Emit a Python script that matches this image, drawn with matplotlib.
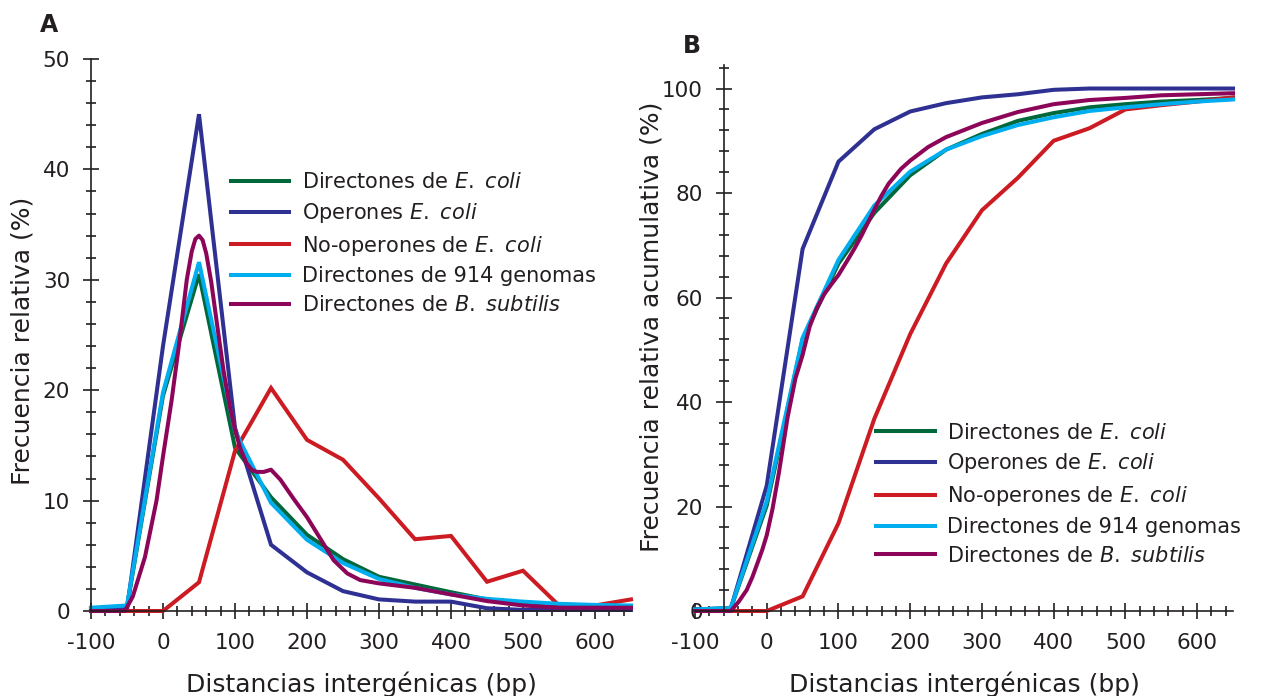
import matplotlib
matplotlib.use("Agg")
import matplotlib.pyplot as plt
from matplotlib.ticker import MultipleLocator

plt.rcParams['font.family'] = ['DejaVu Sans']
plt.rcParams['mathtext.fontset'] = 'dejavusans'
plt.rcParams['axes.unicode_minus'] = False

# ---------------- data: panel A (relative frequency, %) ----------------
x_bins = [-100, -50, 0, 50, 100, 150, 200, 250, 300, 350, 400, 450, 500, 550, 600, 650]

a_dir_ecoli = [0.2, 0.4, 19.5, 30.5, 14.8, 10.3, 6.9, 4.7, 3.1, 2.4, 1.7, 1.05, 0.65, 0.5, 0.45, 0.4]
a_oper_ecoli = [0.0, 0.15, 24.0, 45.0, 16.6, 6.0, 3.5, 1.8, 1.05, 0.85, 0.85, 0.25, 0.1, 0.1, 0.1, 0.1]
a_nooper_ecoli = [0.0, 0.0, 0.0, 2.6, 14.5, 20.2, 15.5, 13.7, 10.2, 6.5, 6.8, 2.65, 3.65, 0.5, 0.5, 1.05]
a_dir_914 = [0.3, 0.5, 19.8, 31.6, 16.3, 9.8, 6.45, 4.35, 2.9, 2.1, 1.5, 1.1, 0.85, 0.65, 0.55, 0.5]

a_bsub_x = [-100, -53, -42, -25, -9, 0, 12, 22, 33, 40, 45, 50, 55, 60, 67, 75, 84, 92, 100, 108,
            116, 123, 130, 140, 150, 163, 181, 200, 219, 237, 256, 274, 300, 350, 400, 450, 500,
            550, 600, 650]
a_bsub_y = [0.0, 0.0, 1.3, 4.9, 10.0, 14.0, 19.1, 24.0, 30.0, 32.6, 33.7, 34.0, 33.6, 32.4, 29.8,
            26.0, 21.8, 18.8, 16.4, 14.6, 13.4, 12.8, 12.6, 12.6, 12.8, 11.9, 10.2, 8.5, 6.5, 4.6,
            3.4, 2.8, 2.5, 2.1, 1.5, 0.9, 0.5, 0.3, 0.3, 0.3]

# ---------------- data: panel B (cumulative relative frequency, %) ----------------
b_dir_ecoli = [0.3, 0.55, 20.2, 52.0, 66.5, 76.2, 83.4, 88.3, 91.3, 93.8, 95.3, 96.4, 97.0, 97.5, 97.8, 98.2]
b_oper_ecoli = [0.3, 0.5, 24.0, 69.3, 86.0, 92.2, 95.6, 97.2, 98.3, 98.9, 99.75, 100.0, 100.0, 100.0, 100.0, 100.0]
b_nooper_ecoli = [0.0, 0.0, 0.0, 2.8, 16.8, 36.8, 53.0, 66.5, 76.7, 82.9, 90.0, 92.4, 96.0, 96.8, 97.5, 98.3]
b_dir_914 = [0.3, 0.6, 21.0, 52.3, 67.2, 77.6, 84.1, 88.3, 90.9, 93.0, 94.5, 95.7, 96.4, 97.0, 97.5, 97.9]

b_bsub_x = [-100, -50, -39, -28, -20, -12, -6, 0, 8, 17, 29, 40, 50, 60, 70, 80, 90, 100, 112,
            122, 132, 141, 150, 160, 170, 187, 200, 225, 250, 300, 350, 400, 450, 500, 550, 600, 650]
b_bsub_y = [0.0, 0.0, 1.8, 4.0, 6.5, 9.5, 11.8, 14.5, 19.5, 26.5, 37.0, 44.5, 49.0, 54.5, 58.0,
            60.6, 62.5, 64.3, 67.0, 69.3, 71.8, 74.3, 76.8, 79.5, 81.8, 84.6, 86.2, 88.8, 90.7,
            93.4, 95.5, 97.0, 97.8, 98.2, 98.7, 98.9, 99.1]

labels_a = [r'Directones de $\it{E.}$ $\it{coli}$', r'Operones $\it{E.}$ $\it{coli}$',
            r'No-operones de $\it{E.}$ $\it{coli}$', 'Directones de 914 genomas',
            r'Directones de $\it{B.}$ $\it{subtilis}$']
labels_b = [r'Directones de $\it{E.}$ $\it{coli}$', r'Operones de $\it{E.}$ $\it{coli}$',
            r'No-operones de $\it{E.}$ $\it{coli}$', 'Directones de 914 genomas',
            r'Directones de $\it{B.}$ $\it{subtilis}$']

colors = ['#00683a', '#2e3192', '#cc1b22', '#00aeef', '#8c0558']
txt = '#231f20'
lw = 2.9

W, H = 1266, 696
fig = plt.figure(figsize=(W / 100, H / 100), dpi=100)

def px_axes(x0, x1, y_top, y_bot):
    return fig.add_axes([x0 / W, 1 - y_bot / H, (x1 - x0) / W, (y_bot - y_top) / H])

axA = px_axes(91, 631, 59, 611)
axB = px_axes(695, 1233, 65, 611)

def style(ax, ymaj, ymin):
    for s in ['top', 'right']:
        ax.spines[s].set_visible(False)
    for s in ['left', 'bottom']:
        ax.spines[s].set_linewidth(1.2)
        ax.spines[s].set_color(txt)
    ax.xaxis.set_major_locator(MultipleLocator(100))
    ax.xaxis.set_minor_locator(MultipleLocator(20))
    ax.yaxis.set_major_locator(MultipleLocator(ymaj))
    ax.yaxis.set_minor_locator(MultipleLocator(ymin))
    ax.tick_params(which='major', direction='inout', length=12, width=1.2, color=txt,
                   labelsize=15.5, labelcolor=txt)
    ax.tick_params(which='minor', direction='inout', length=7.5, width=1.2, color=txt)
    ax.tick_params(axis='x', which='major', pad=10)
    ax.tick_params(axis='y', which='major', pad=9)
    ax.set_xlim(-100, 650)

legkw = dict(loc='upper left', frameon=False, fontsize=15, handlelength=2.8,
             handletextpad=0.6, labelspacing=0.42, borderpad=0, borderaxespad=0)

# ---- Panel A ----
style(axA, 10, 2)
axA.set_ylim(0, 50)
series_a = [a_dir_ecoli, a_oper_ecoli, a_nooper_ecoli, a_dir_914]
for ys, c, lab in zip(series_a, colors[:4], labels_a[:4]):
    axA.plot(x_bins, ys, color=c, lw=lw, label=lab, solid_joinstyle='miter', clip_on=False)
axA.plot(a_bsub_x, a_bsub_y, color=colors[4], lw=lw, label=labels_a[4], clip_on=False)
axA.set_xlabel('Distancias intergénicas (bp)', fontsize=18, color=txt, labelpad=13)
axA.set_ylabel('Frecuencia relativa (%)', fontsize=18, color=txt)
axA.yaxis.set_label_coords(-0.104, 0.49)
legA = axA.legend(bbox_to_anchor=(0.259, 0.795), **legkw)
for t in legA.get_texts():
    t.set_color(txt)
fig.text(40 / W, 1 - 32 / H, 'A', fontsize=17, fontweight='bold', color=txt,
         ha='left', va='baseline')

# ---- Panel B ----
style(axB, 20, 4)
axB.set_ylim(0, 104.5)
axB.spines['left'].set_position(('data', -60))
series_b = [b_dir_ecoli, b_oper_ecoli, b_nooper_ecoli, b_dir_914]
for ys, c, lab in zip(series_b, colors[:4], labels_b[:4]):
    axB.plot(x_bins, ys, color=c, lw=lw, label=lab, solid_joinstyle='miter', clip_on=False)
axB.plot(b_bsub_x, b_bsub_y, color=colors[4], lw=lw, label=labels_b[4], clip_on=False)
axB.set_xlabel('Distancias intergénicas (bp)', fontsize=18, color=txt, labelpad=13)
axB.set_ylabel('Frecuencia relativa acumulativa (%)', fontsize=18, color=txt)
axB.yaxis.set_label_coords(-0.058, 0.52)
legB = axB.legend(bbox_to_anchor=(0.337, 0.345), **legkw)
for t in legB.get_texts():
    t.set_color(txt)
fig.text(683 / W, 1 - 53 / H, 'B', fontsize=17, fontweight='bold', color=txt,
         ha='left', va='baseline')

fig.savefig('out.png', dpi=100)
